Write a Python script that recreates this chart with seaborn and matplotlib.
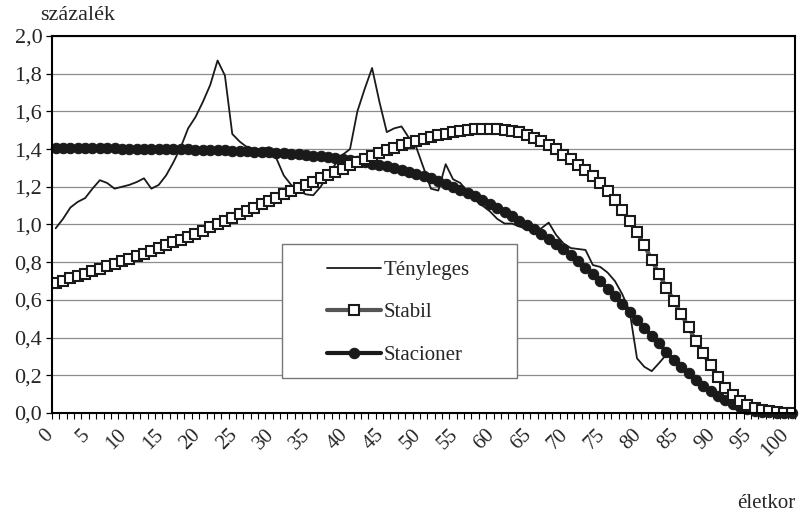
import numpy as np
import pandas as pd
import matplotlib
matplotlib.use("Agg")
import matplotlib.pyplot as plt
import matplotlib.transforms as mtrans
from matplotlib.patches import Rectangle
from matplotlib.ticker import FuncFormatter
import seaborn as sns

# életkor 0..100
age = list(range(101))

# Tényleges (actual) age distribution, %
tenyleges = [0.98, 1.03, 1.09, 1.12, 1.14, 1.19, 1.235, 1.22, 1.19, 1.20,
             1.21, 1.225, 1.245, 1.19, 1.21, 1.26, 1.33, 1.41, 1.51, 1.57,
             1.65, 1.74, 1.87, 1.79, 1.48, 1.44, 1.41, 1.40, 1.40, 1.41,
             1.35, 1.26, 1.21, 1.18, 1.16, 1.155, 1.20, 1.26, 1.32, 1.37,
             1.40, 1.60, 1.72, 1.83, 1.65, 1.49, 1.51, 1.52, 1.46, 1.41,
             1.30, 1.19, 1.18, 1.32, 1.24, 1.22, 1.17, 1.13, 1.10, 1.07,
             1.03, 1.005, 1.005, 0.99, 0.975, 0.96, 0.98, 1.01, 0.945, 0.90,
             0.875, 0.87, 0.865, 0.785, 0.775, 0.745, 0.70, 0.63, 0.54, 0.29,
             0.245, 0.222, 0.265, 0.31, 0.28, 0.245, 0.21, 0.176, 0.145, 0.116,
             0.09, 0.067, 0.047, 0.031, 0.02, 0.012, 0.007, 0.004, 0.002, 0.001,
             0.0005]

# Stabil (stable population), %
stabil = [0.690, 0.702, 0.714, 0.726, 0.739, 0.752, 0.765, 0.778, 0.791, 0.804,
          0.818, 0.832, 0.846, 0.860, 0.875, 0.890, 0.905, 0.920, 0.936, 0.952,
          0.968, 0.985, 1.002, 1.019, 1.036, 1.054, 1.072, 1.090, 1.108, 1.126,
          1.143, 1.160, 1.177, 1.194, 1.211, 1.228, 1.245, 1.262, 1.279, 1.296,
          1.313, 1.330, 1.347, 1.363, 1.378, 1.393, 1.407, 1.420, 1.432, 1.444,
          1.455, 1.465, 1.474, 1.482, 1.489, 1.495, 1.500, 1.504, 1.506, 1.507,
          1.506, 1.503, 1.497, 1.488, 1.476, 1.461, 1.443, 1.422, 1.398, 1.371,
          1.345, 1.318, 1.288, 1.255, 1.220, 1.178, 1.128, 1.076, 1.020, 0.958,
          0.890, 0.812, 0.737, 0.665, 0.596, 0.526, 0.455, 0.383, 0.317, 0.252,
          0.190, 0.135, 0.095, 0.066, 0.043, 0.026, 0.015, 0.008, 0.004, 0.002,
          0.001]

# Stacioner (stationary population), %
stacioner = [1.408, 1.407, 1.407, 1.406, 1.406, 1.405, 1.405, 1.404, 1.404, 1.403,
             1.403, 1.402, 1.402, 1.401, 1.401, 1.400, 1.400, 1.399, 1.398, 1.397,
             1.396, 1.395, 1.394, 1.393, 1.392, 1.390, 1.389, 1.387, 1.385, 1.383,
             1.381, 1.378, 1.375, 1.372, 1.369, 1.365, 1.361, 1.357, 1.352, 1.347,
             1.342, 1.336, 1.330, 1.323, 1.316, 1.308, 1.299, 1.290, 1.280, 1.269,
             1.257, 1.244, 1.230, 1.216, 1.201, 1.185, 1.168, 1.150, 1.131, 1.108,
             1.085, 1.064, 1.043, 1.021, 0.998, 0.975, 0.950, 0.923, 0.896, 0.868,
             0.836, 0.804, 0.771, 0.736, 0.699, 0.660, 0.620, 0.578, 0.536, 0.494,
             0.452, 0.411, 0.370, 0.322, 0.283, 0.245, 0.210, 0.176, 0.145, 0.116,
             0.090, 0.067, 0.047, 0.031, 0.020, 0.012, 0.007, 0.004, 0.002, 0.001,
             0.0005]

x_ticks = list(range(0, 101, 5))
y_ticks = [0.0, 0.2, 0.4, 0.6, 0.8, 1.0, 1.2, 1.4, 1.6, 1.8, 2.0]

df = pd.DataFrame({"age": age, "Tényleges": tenyleges,
                   "Stabil": stabil, "Stacioner": stacioner})

sns.set_style("white")
plt.rcParams['font.family'] = ['Liberation Serif', 'DejaVu Serif']

fig = plt.figure(figsize=(8, 5.14), dpi=100)
ax = fig.add_axes([0.065, 0.1965, 0.929, 0.7335])

ax.yaxis.grid(True, color='#8c8c8c', lw=0.9)
ax.set_axisbelow(True)

sns.lineplot(data=df, x="age", y="Tényleges", ax=ax, color="#1a1a1a",
             lw=1.3, label="Tényleges", zorder=3)
sns.lineplot(data=df, x="age", y="Stacioner", ax=ax, color="#1a1a1a",
             lw=3, marker="o", markersize=7.5, markeredgecolor="#1a1a1a",
             label="Stacioner", zorder=4, clip_on=False)
sns.lineplot(data=df, x="age", y="Stabil", ax=ax, color="#555555",
             lw=3, marker="s", markersize=7, markerfacecolor="white",
             markeredgecolor="#1a1a1a", markeredgewidth=1.5,
             label="Stabil", zorder=5)

ax.set_xlabel("")
ax.set_ylabel("")
ax.set_xlim(-0.5, 100.5)
ax.set_ylim(0, 2.0)

ax.set_xticks(x_ticks)
ax.set_xticklabels([str(v) for v in x_ticks], rotation=45, ha='right',
                   rotation_mode='anchor', fontsize=15)
ax.set_xticks(np.arange(-0.5, 101, 1), minor=True)
ax.tick_params(axis='x', which='major', length=0, pad=9, bottom=True)
ax.tick_params(axis='x', which='minor', length=4, width=0.8, color='black',
               direction='out', bottom=True)

ax.set_yticks(y_ticks)
ax.yaxis.set_major_formatter(FuncFormatter(lambda v, p: f"{v:.1f}".replace('.', ',')))
ax.tick_params(axis='y', length=4, width=0.9, color='black', direction='out',
               left=True, pad=3, labelsize=16)

# move rotated age labels a bit to the left, like the original
shift = mtrans.ScaledTranslation(-12 / 100, 0, fig.dpi_scale_trans)
for lab in ax.get_xticklabels():
    lab.set_transform(lab.get_transform() + shift)

for s in ax.spines.values():
    s.set_visible(True)
    s.set_color('black')
    s.set_linewidth(1.5)
    s.set_zorder(6)

# legend box
ax.add_patch(Rectangle((0.31, 0.093), 0.316, 0.355, transform=ax.transAxes,
                       facecolor='white', edgecolor='#777777', lw=1, zorder=7))
handles, labels = ax.get_legend_handles_labels()
order = [labels.index(n) for n in ["Tényleges", "Stabil", "Stacioner"]]
leg = ax.legend([handles[i] for i in order], [labels[i] for i in order],
                loc='upper left', bbox_to_anchor=(0.37, 0.405), frameon=False,
                fontsize=15, labelspacing=1.1, handlelength=2.6,
                handletextpad=0.1, borderpad=0, borderaxespad=0)
leg.set_zorder(8)

fig.text(40 / 800, 1 - 15 / 514, "százalék", fontsize=16, ha='left', va='center')
fig.text(795 / 800, 1 - 503 / 514, "életkor", fontsize=15, ha='right', va='center')

fig.savefig("out.png", dpi=100)
